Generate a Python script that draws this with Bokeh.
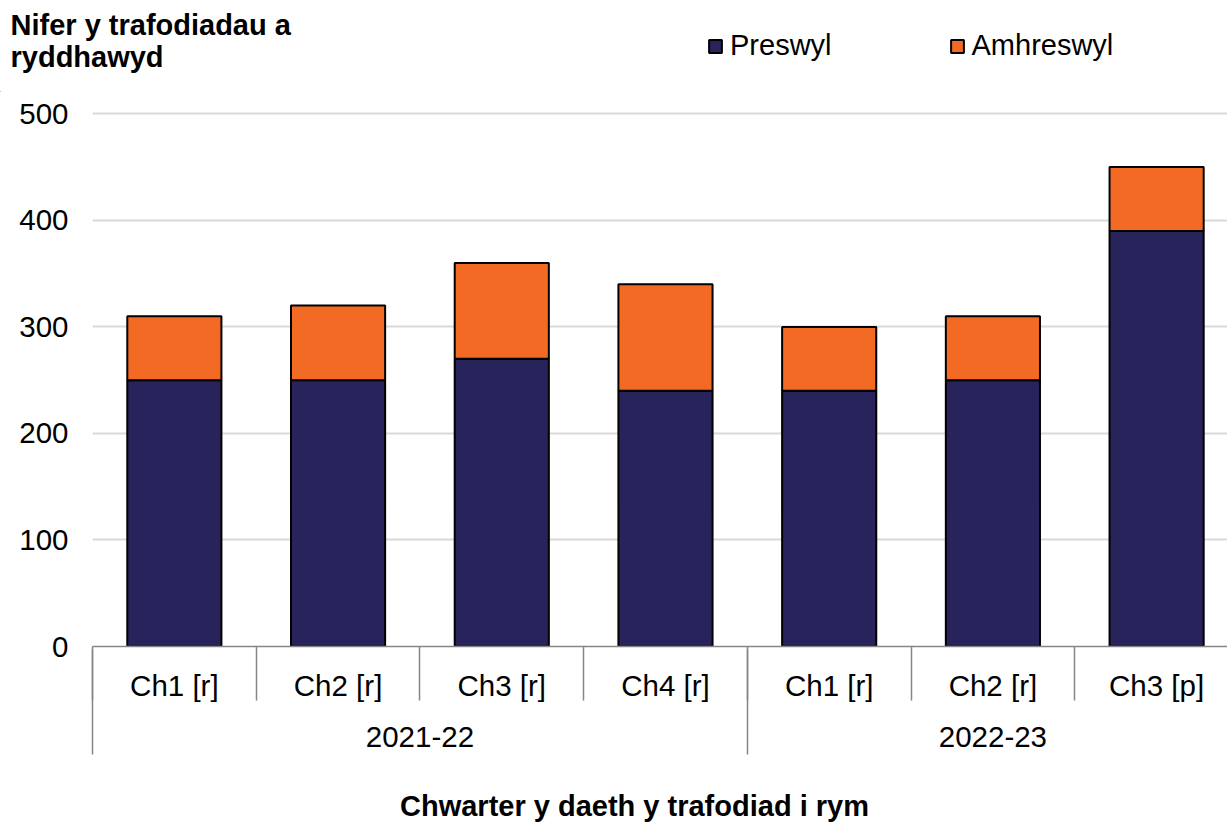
from bokeh.plotting import figure
from bokeh.layouts import column
from bokeh.models import (Range1d, FixedTicker, LinearAxis, Label, Legend, LegendItem,
                          ColumnDataSource, Grid)
from bokeh.embed import file_html
from bokeh.resources import INLINE

# ---- data ----
quarters = ["Ch1 [r]", "Ch2 [r]", "Ch3 [r]", "Ch4 [r]", "Ch1 [r]", "Ch2 [r]", "Ch3 [p]"]
years = ["2021-22", "2022-23"]
quarters_per_year = [4, 3]
preswyl = [250, 250, 270, 240, 240, 250, 390]
amhreswyl = [60, 70, 90, 100, 60, 60, 60]
series = ["Preswyl", "Amhreswyl"]
colors = ["#29235c", "#f26a24"]
y_ticks = [0, 100, 200, 300, 400, 500]
y_title = "Nifer y trafodiadau a\nryddhawyd"
x_title = "Chwarter y daeth y trafodiad i rym"

FONT = "Liberation Sans"
AXIS_GREY = "#868686"
TICK_SIZE = "29.5px"
W = 1227
HEAD_H, MAIN_H, FOOT_H = 92, 697, 36

xs = [i + 0.5 for i in range(len(quarters))]
bounds = list(range(len(quarters)))
year_bounds, year_centers, acc = [], [], 0
for n in quarters_per_year:
    year_bounds.append(acc)
    year_centers.append(acc + n / 2)
    acc += n

src = ColumnDataSource(dict(x=xs, Preswyl=preswyl, Amhreswyl=amhreswyl))


def bare(h):
    f = figure(width=W, height=h, output_backend="svg", toolbar_location=None,
               x_range=Range1d(0, 1), y_range=Range1d(0, 1),
               x_axis_type=None, y_axis_type=None, min_border=0,
               min_border_left=0, min_border_right=0, min_border_top=0,
               min_border_bottom=0, frame_align=False)
    f.outline_line_color = None
    f.xgrid.visible = False
    f.ygrid.visible = False
    return f


# ---------------- header: y title + legend ----------------
head = bare(HEAD_H)
head.add_layout(Label(x=10, y=HEAD_H - 8, x_units="screen", y_units="screen",
                      text=y_title, text_font=FONT, text_font_size="29px",
                      text_font_style="bold", text_color="black",
                      text_baseline="top", text_align="left", text_line_height=1.0))
# legend keys: one zero-height key bar per series, outside the visible range
key_src = ColumnDataSource(dict(x=[-5.0], top=[0.0]))
key_renderers = [head.vbar(x="x", top="top", width=0.1, source=key_src, fill_color=c,
                           line_color="black", line_width=2) for c in colors]
legend = Legend(items=[LegendItem(label=s, renderers=[r]) for s, r in zip(series, key_renderers)],
                orientation="horizontal", location=(707, HEAD_H - 62),
                glyph_width=16, glyph_height=16, label_standoff=7, spacing=117,
                padding=0, margin=0, border_line_color=None, background_fill_alpha=0,
                label_text_font=FONT, label_text_font_size="29px", label_text_color="black")
head.add_layout(legend, "center")

# ---------------- main chart ----------------
p = figure(width=W, height=MAIN_H, output_backend="svg", toolbar_location=None,
           x_range=Range1d(0, 6.933), y_range=Range1d(0, 505),
           min_border_left=92, min_border_right=0, min_border_top=16,
           min_border_bottom=143, x_axis_type=None, y_axis_type=None,
           frame_align=False)
p.outline_line_color = None

p.vbar_stack(series, x="x", width=0.575, source=src,
             fill_color=colors, line_color="black", line_width=2)

yaxis = LinearAxis(ticker=FixedTicker(ticks=y_ticks), axis_line_color=None,
                   major_tick_line_color=None, minor_tick_line_color=None,
                   major_tick_out=0, minor_tick_out=0,
                   major_label_standoff=24, major_label_text_font_size=TICK_SIZE,
                   major_label_text_font=FONT, major_label_text_color="black")
p.add_layout(yaxis, "left")
p.add_layout(Grid(dimension=1, ticker=yaxis.ticker, grid_line_color="#d9d9d9",
                  grid_line_width=2))

x1 = LinearAxis(ticker=FixedTicker(ticks=xs, minor_ticks=bounds),
                major_label_overrides={x: q for x, q in zip(xs, quarters)},
                axis_line_color=AXIS_GREY, axis_line_width=1.5,
                major_tick_line_color=None, major_tick_out=0, major_tick_in=0,
                minor_tick_line_color=AXIS_GREY, minor_tick_line_width=1.5,
                minor_tick_out=54, minor_tick_in=0,
                major_label_standoff=-32, major_label_text_font_size=TICK_SIZE,
                major_label_text_font=FONT, major_label_text_color="black")
p.add_layout(x1, "below")

x2 = LinearAxis(ticker=FixedTicker(ticks=year_centers, minor_ticks=year_bounds),
                major_label_overrides={x: y for x, y in zip(year_centers, years)},
                axis_line_color=None,
                major_tick_line_color=None, major_tick_out=0, major_tick_in=0,
                minor_tick_line_color=AXIS_GREY, minor_tick_line_width=1.5,
                minor_tick_out=50, minor_tick_in=55,
                major_label_standoff=-28, major_label_text_font_size=TICK_SIZE,
                major_label_text_font=FONT, major_label_text_color="black")
p.add_layout(x2, "below")

# ---------------- footer: x title ----------------
foot = bare(FOOT_H)
foot.add_layout(Label(x=634, y=20, x_units="screen",
                      y_units="screen", text=x_title, text_font=FONT,
                      text_font_size="29px", text_font_style="bold", text_color="black",
                      text_baseline="alphabetic", text_align="center"))

layout = column(head, p, foot, spacing=0)
open("out.html", "w").write(file_html(layout, INLINE))
